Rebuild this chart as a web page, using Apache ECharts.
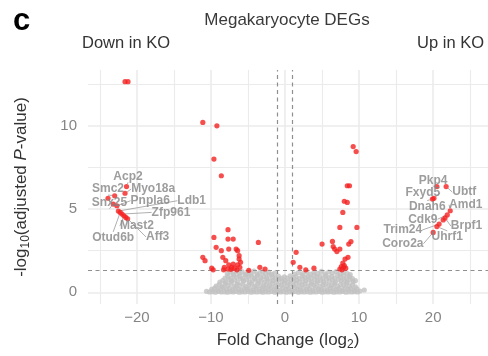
<!DOCTYPE html>
<html><head><meta charset="utf-8">
<script src="https://cdn.jsdelivr.net/npm/echarts@6/dist/echarts.min.js"></script>
<style>html,body{margin:0;padding:0;background:#fff}#c{width:488px;height:356px}</style>
</head><body><div id="c"></div>
<script>
// ---- data ----
const xTicks = [-20, -10, 0, 10, 20];
const yTicks = [0, 5, 10];
const xGridMinor = [-25, -15, -5, 5, 15, 25];
const yGridMinor = [2.5, 7.5, 12.5];
const fcCutoff = [-1, 1];
const pCutoff = [1.3];

// labelled genes (log2 FC, -log10 adj P)
const labGenes = ['Acp2','Smc2','Myo18a','Snx25','Pnpla6','Ldb1','Zfp961','Mast2','Otud6b','Aff3',
                  'Pkp4','Fxyd5','Ubtf','Dnah6','Amd1','Cdk9','Brpf1','Trim24','Uhrf1','Coro2a'];
const labFC = [-21.4,-23.0,-21.6,-23.2,-22.7,-22.5,-22.0,-21.75,-22.25,-21.25,
               20.5,20.1,21.75,19.9,22.3,21.9,21.6,20.8,20.5,20.0];
const labP  = [6.35,5.8,5.95,5.3,5.2,4.88,4.7,4.6,4.8,4.42,
               6.35,5.65,6.35,5.6,4.9,4.65,4.47,4.1,3.95,3.6];

// other significant genes
const sigPts = [
 [-21.6,12.65],[-21.2,12.65],[-23.9,5.65],[-21.5,4.5],[21.35,4.35],
 [-11.1,10.2],[-9.2,10.0],[-9.6,8.0],[-8.6,7.0],
 [-7.7,3.76],[-9.6,3.3],[-7.7,3.2],[-7.0,3.2],[-3.6,3.0],[-9.3,2.7],[-8.6,2.5],[-7.6,2.6],
 [-6.6,2.6],[-6.4,2.5],[-11.1,2.1],[-10.8,1.9],[-8.4,2.1],[-8.0,1.9],[-6.2,2.2],[-6.2,2.0],
 [-7.6,1.65],[-6.4,1.65],[-8.2,1.5],[-7.2,1.5],[-6.8,1.45],[-6.1,1.5],[-9.9,1.45],[-9.7,1.35],
 [-7.7,1.4],[-4.9,1.32],[-3.4,1.5],[-2.7,1.4],[-7.3,1.38],[-6.5,1.35],[-6.0,1.8],[-8.3,1.35],[-7.0,1.7],
 [9.2,8.75],[9.6,8.45],[8.4,6.4],[8.7,6.4],[8.0,5.47],[8.4,5.4],[7.8,4.8],[7.4,3.9],[9.7,3.9],
 [5.0,2.9],[6.4,3.06],[6.5,2.75],[6.7,2.6],[7.4,2.6],[7.0,2.45],[8.9,3.05],[8.6,2.9],
 [1.5,2.4],[1.1,1.8],[2.0,1.5],[2.8,1.35],[3.9,1.45],[8.5,2.1],[8.1,2.0],[7.8,1.76],
 [7.6,1.55],[7.9,1.5],[8.2,1.45],[7.4,1.4],[7.7,1.35],[8.0,1.6]
];

// non-significant genes
const nsPts = [
 [-10.6,0.06],[-10.2,0.02],[-9.8,0.04],[-9.4,0.01],[-9.0,0.05],[-8.6,0.02],[-8.2,0.03],[-7.8,0.01],[-7.4,0.04],[-7.0,0.02],
 [-6.6,0.05],[-6.2,0.01],[-5.8,0.03],[-5.4,0.02],[-5.0,0.05],[-4.6,0.01],[-4.2,0.03],[-3.8,0.02],[-3.4,0.04],[-3.0,0.01],
 [-2.6,0.03],[-2.2,0.02],[-1.8,0.05],[-1.4,0.01],[-1.0,0.03],[-0.6,0.02],[-0.2,0.04],[0.2,0.01],[0.6,0.03],[1.0,0.02],
 [1.4,0.05],[1.8,0.01],[2.2,0.03],[2.6,0.02],[3.0,0.04],[3.4,0.01],[3.8,0.03],[4.2,0.02],[4.6,0.05],[5.0,0.01],
 [5.4,0.03],[5.8,0.02],[6.2,0.04],[6.6,0.01],[7.0,0.03],[7.4,0.02],[7.8,0.05],[8.2,0.01],[8.6,0.03],[9.0,0.02],
 [9.4,0.04],[9.8,0.02],[10.7,0.14],
 [-9.9,0.18],[-9.5,0.25],[-9.1,0.14],[-8.7,0.22],[-8.3,0.29],[-7.9,0.16],[-7.5,0.24],[-7.1,0.13],[-6.7,0.27],[-6.3,0.19],
 [-5.9,0.12],[-5.5,0.26],[-5.1,0.17],[-4.7,0.23],[-4.3,0.14],[-3.9,0.28],[-3.5,0.2],[-3.1,0.13],[-2.7,0.25],[-2.3,0.17],
 [-1.9,0.29],[-1.5,0.15],[-1.1,0.22],[-0.7,0.13],[-0.3,0.27],[0.1,0.18],[0.5,0.24],[0.9,0.12],[1.3,0.28],[1.7,0.19],
 [2.1,0.14],[2.5,0.26],[2.9,0.17],[3.3,0.23],[3.7,0.13],[4.1,0.29],[4.5,0.2],[4.9,0.15],[5.3,0.25],[5.7,0.12],
 [6.1,0.22],[6.5,0.28],[6.9,0.16],[7.3,0.24],[7.7,0.14],[8.1,0.27],[8.5,0.19],[8.9,0.23],[9.3,0.13],[9.7,0.21],[10.1,0.08],
 [-9.3,0.38],[-8.9,0.46],[-8.5,0.35],[-8.1,0.52],[-7.7,0.41],[-7.3,0.55],[-6.9,0.36],[-6.5,0.48],[-6.1,0.4],[-5.7,0.53],
 [-5.3,0.34],[-4.9,0.45],[-4.5,0.5],[-4.1,0.37],[-3.7,0.54],[-3.3,0.42],[-2.9,0.35],[-2.5,0.49],[-2.1,0.4],[-1.7,0.53],
 [-1.3,0.36],[-0.9,0.47],[-0.5,0.42],[-0.1,0.55],[0.3,0.37],[0.7,0.5],[1.1,0.41],[1.5,0.54],[1.9,0.35],[2.3,0.46],
 [2.7,0.52],[3.1,0.38],[3.5,0.49],[3.9,0.43],[4.3,0.55],[4.7,0.36],[5.1,0.47],[5.5,0.51],[5.9,0.39],[6.3,0.44],
 [6.7,0.53],[7.1,0.35],[7.5,0.48],[7.9,0.42],[8.3,0.54],[8.7,0.37],[9.1,0.46],[9.5,0.33],
 [-8.8,0.62],[-8.4,0.72],[-8.0,0.6],[-7.6,0.78],[-7.2,0.66],[-6.8,0.74],[-6.4,0.59],[-6.0,0.8],[-5.6,0.68],[-5.2,0.76],
 [-4.8,0.61],[-4.4,0.7],[-4.0,0.79],[-3.6,0.64],[-3.2,0.73],[-2.8,0.6],[-2.4,0.77],[-2.0,0.67],[-1.6,0.72],[-1.2,0.62],
 [-0.8,0.78],[-0.4,0.65],[0.0,0.71],[0.4,0.6],[0.8,0.76],[1.2,0.66],[1.6,0.73],[2.0,0.61],[2.4,0.79],[2.8,0.68],
 [3.2,0.74],[3.6,0.59],[4.0,0.77],[4.4,0.67],[4.8,0.72],[5.2,0.62],[5.6,0.8],[6.0,0.66],[6.4,0.75],[6.8,0.6],
 [7.2,0.78],[7.6,0.69],[8.0,0.73],[8.4,0.61],[8.8,0.76],[9.2,0.64],[9.5,0.7],
 [-8.1,0.86],[-7.7,0.97],[-7.3,0.84],[-6.9,1.02],[-6.5,0.9],[-6.1,0.99],[-5.7,0.83],[-5.3,1.04],[-4.9,0.92],[-4.5,0.98],
 [-4.1,0.85],[-3.7,1.01],[-3.3,0.88],[-2.9,0.96],[-2.5,0.84],[-2.1,1.03],[-1.7,0.91],[-1.3,0.87],[-0.9,0.97],[-0.5,0.84],
 [-0.1,0.93],[0.3,0.86],[0.7,0.99],[1.1,0.88],[1.5,0.95],[1.9,0.83],[2.3,1.0],[2.7,0.9],[3.1,0.97],[3.5,0.85],
 [3.9,1.03],[4.3,0.92],[4.7,0.98],[5.1,0.84],[5.5,1.01],[5.9,0.89],[6.3,0.96],[6.7,0.86],[7.1,1.04],[7.5,0.91],
 [7.9,0.99],[8.3,0.85],[8.7,0.94],[9.1,0.82],
 [-7.8,1.12],[-7.4,1.22],[-7.0,1.1],[-6.6,1.26],[-6.2,1.15],[-5.8,1.24],[-5.4,1.09],[-5.0,1.2],[-4.6,1.13],[-4.2,1.27],
 [-3.8,1.1],[-3.4,1.18],[-3.0,1.25],[-2.6,1.12],[-2.2,1.21],[-1.8,1.08],[-1.4,1.16],[1.3,1.1],[1.8,1.19],[2.4,1.12],
 [2.9,1.24],[3.4,1.09],[3.9,1.2],[4.4,1.14],[4.9,1.26],[5.4,1.11],[5.9,1.22],[6.4,1.16],[6.9,1.25],[7.4,1.1],
 [7.9,1.21],[8.4,1.13],[8.8,1.06]
];

// ---- label placement (data units), kept apart from the data ----
const labelAt = {
 Acp2:[-21.2,6.96], Smc2:[-23.9,6.2], Myo18a:[-17.8,6.2], Snx25:[-23.7,5.38], Pnpla6:[-18.2,5.5],
 Ldb1:[-12.6,5.5], Zfp961:[-15.4,4.8], Mast2:[-20.0,3.98], Otud6b:[-23.2,3.27], Aff3:[-17.2,3.33],
 Pkp4:[20.0,6.73], Fxyd5:[18.6,5.96], Ubtf:[24.2,6.02], Dnah6:[19.2,5.15], Amd1:[24.4,5.26],
 Cdk9:[18.6,4.39], Brpf1:[24.5,3.98], Trim24:[15.9,3.74], Uhrf1:[21.9,3.33], Coro2a:[15.9,2.92]
};

const FONT = 'Liberation Sans, Arial, Helvetica, sans-serif';
const RED = '#f42020';
const GREY = '#c2c2c2';
const GRIDC = '#ebebeb';

const chart = echarts.init(document.getElementById('c'), null, {renderer: 'canvas'});

const gridLines = [].concat(
  xTicks.map(v => ({xAxis: v, lineStyle: {color: GRIDC, width: 1.6, type: 'solid'}})),
  xGridMinor.map(v => ({xAxis: v, lineStyle: {color: GRIDC, width: 1.1, type: 'solid'}})),
  yTicks.map(v => ({yAxis: v, lineStyle: {color: GRIDC, width: 1.6, type: 'solid'}})),
  yGridMinor.map(v => ({yAxis: v, lineStyle: {color: GRIDC, width: 1.1, type: 'solid'}}))
);
const cutLines = [].concat(
  fcCutoff.map(v => ({xAxis: v})),
  pCutoff.map(v => ({yAxis: v}))
);
const minusFmt = v => (v < 0 ? '\u2212' + Math.abs(v) : String(v));

const option = {
  animation: false,
  backgroundColor: '#ffffff',
  grid: {left: 88, top: 70, width: 400, height: 240, containLabel: false},
  xAxis: {
    type: 'value', min: -26.6, max: 27.4,
    axisLine: {show: false}, axisTick: {show: false}, splitLine: {show: false},
    axisLabel: {customValues: xTicks, formatter: minusFmt, color: '#858585', fontSize: 15, fontFamily: FONT, margin: 6},
    name: 'Fold Change (log{sub|2})', nameLocation: 'middle', nameGap: 26,
    nameTextStyle: {color: '#333', fontSize: 17, fontFamily: FONT,
      rich: {sub: {fontSize: 12, fontFamily: FONT, color: '#333', verticalAlign: 'top', padding: [9, 0, 0, 0]}}}
  },
  yAxis: {
    type: 'value', min: -0.7, max: 13.35,
    axisLine: {show: false}, axisTick: {show: false}, splitLine: {show: false},
    axisLabel: {customValues: yTicks, formatter: minusFmt, color: '#858585', fontSize: 15, fontFamily: FONT, margin: 11},
    name: '-log{sub|10}(adjusted {it|P}-value)', nameLocation: 'middle', nameGap: 56,
    nameTextStyle: {color: '#333', fontSize: 17, fontFamily: FONT,
      rich: {sub: {fontSize: 12, fontFamily: FONT, color: '#333', verticalAlign: 'top', padding: [9, 0, 0, 0]},
             it: {fontSize: 17, fontStyle: 'italic', fontFamily: FONT, color: '#333'}}}
  },
  graphic: [
    {type: 'text', x: 13, y: 21, style: {text: 'c', font: 'bold 31px ' + FONT, fill: '#000', align: 'left', verticalAlign: 'middle'}},
    {type: 'text', x: 287, y: 20, style: {text: 'Megakaryocyte DEGs', font: '17px ' + FONT, fill: '#3a3a3a', align: 'center', verticalAlign: 'middle'}},
    {type: 'text', x: 82, y: 43, style: {text: 'Down in KO', font: '16.5px ' + FONT, fill: '#333', align: 'left', verticalAlign: 'middle'}},
    {type: 'text', x: 484, y: 43, style: {text: 'Up in KO', font: '16.5px ' + FONT, fill: '#333', align: 'right', verticalAlign: 'middle'}}
  ],
  series: [
    {
      id: 'ns', type: 'scatter', data: nsPts, symbolSize: 5.2, z: 2,
      itemStyle: {color: GREY}, silent: true,
      markLine: {silent: true, z: 1, symbol: ['none', 'none'], label: {show: false}, animation: false,
        lineStyle: {type: 'solid'}, data: gridLines}
    },
    {
      id: 'sig', type: 'scatter', data: sigPts, symbolSize: 5.2, z: 4,
      itemStyle: {color: RED}, silent: true,
      markLine: {silent: true, z: 3, symbol: ['none', 'none'], label: {show: false}, animation: false,
        lineStyle: {color: '#8f8f8f', type: [4, 3.5], width: 1.2}, data: cutLines}
    },
    {
      id: 'lab', type: 'scatter', symbolSize: 5.2, z: 5, silent: true,
      itemStyle: {color: RED},
      data: labGenes.map((g, i) => ({name: g, value: [labFC[i], labP[i]]})),
      label: {show: true, formatter: '{b}', color: '#858585', fontWeight: 'bold', fontSize: 12, fontFamily: FONT},
      labelLine: {show: true, lineStyle: {color: '#9a9a9a', width: 0.8}}
    }
  ]
};
chart.setOption(option);

const labPix = labGenes.map(g => chart.convertToPixel({gridIndex: 0}, labelAt[g]));
chart.setOption({
  series: [{id: 'lab', labelLayout: p => ({x: labPix[p.dataIndex][0], y: labPix[p.dataIndex][1], align: 'center', verticalAlign: 'middle'})}]
});
</script>
</body></html>
